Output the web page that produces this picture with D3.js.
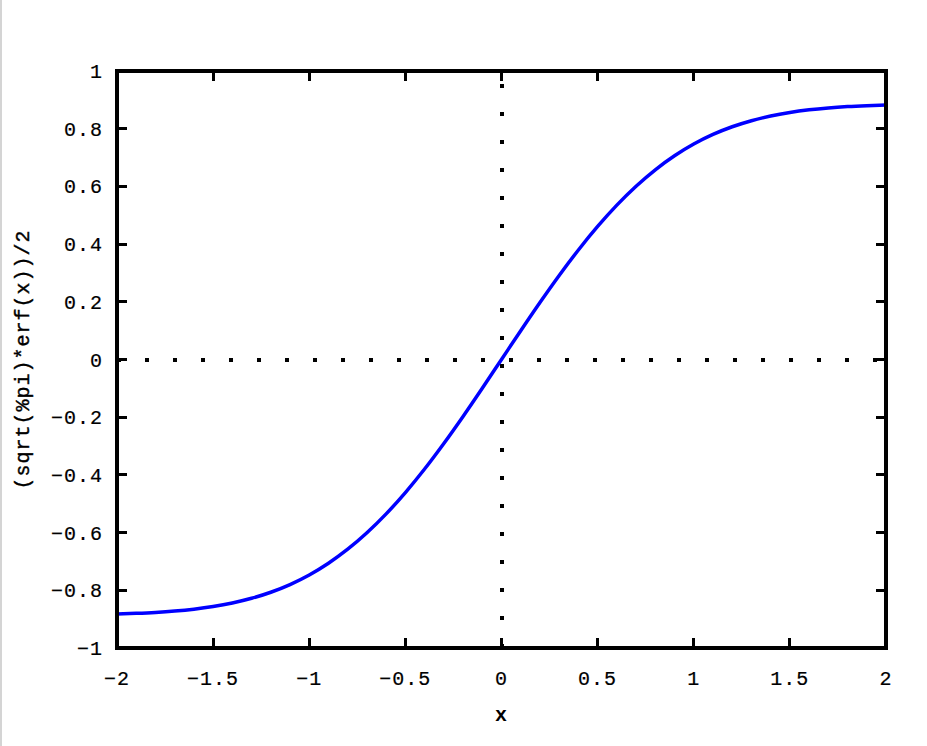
<!DOCTYPE html>
<html>
<head>
<meta charset="utf-8">
<script src="https://cdn.jsdelivr.net/npm/d3@7"></script>
<style>
    html, body { margin: 0; padding: 0; background: #fff; }
    svg { display: block; }
    text { font-family: "Liberation Mono", "DejaVu Sans Mono", monospace; fill: #000; }
</style>
</head>
<body>
<svg id="chart" width="927" height="746"></svg>
<script>
// samples of (sqrt(%pi)*erf(x))/2
var xs = [-2, -1.9, -1.8, -1.7, -1.6, -1.5, -1.4, -1.3, -1.2, -1.1, -1, -0.9, -0.8, -0.7, -0.6, -0.5, -0.4, -0.3, -0.2, -0.1,
    0, 0.1, 0.2, 0.3, 0.4, 0.5, 0.6, 0.7, 0.8, 0.9, 1, 1.1, 1.2, 1.3, 1.4, 1.5, 1.6, 1.7, 1.8, 1.9, 2];
var ys = [-0.8821, -0.8798, -0.8766, -0.8719, -0.8653, -0.8562, -0.8439, -0.8277, -0.8067, -0.7801, -0.7468, -0.7062, -0.6577, -0.6007, -0.5352, -0.4613, -0.3797, -0.2912, -0.1974, -0.0997,
    0, 0.0997, 0.1974, 0.2912, 0.3797, 0.4613, 0.5352, 0.6007, 0.6577, 0.7062, 0.7468, 0.7801, 0.8067, 0.8277, 0.8439, 0.8562, 0.8653, 0.8719, 0.8766, 0.8798, 0.8821];

var xTicks = [-2, -1.5, -1, -0.5, 0, 0.5, 1, 1.5, 2];
var yTicks = [-1, -0.8, -0.6, -0.4, -0.2, 0, 0.2, 0.4, 0.6, 0.8, 1];
var xLabel = "x";
var yLabel = "(sqrt(%pi)*erf(x))/2";

const plotLeft = 117, plotRight = 886, plotTop = 71, plotBottom = 648;
const tickLen = 10;

var svg = d3.select("#chart");

var x = d3.scaleLinear().domain([-2, 2]).range([plotLeft, plotRight]);
var y = d3.scaleLinear().domain([-1, 1]).range([plotBottom, plotTop]);

function fmt(v) {
    return String(+v.toFixed(2)).replace("-", "\u2212");
}

// light grey edge on the left of the window
svg.append("rect").attr("x", 0).attr("y", 0).attr("width", 2).attr("height", 746).attr("fill", "#d4d4d4");

// zero axes, dotted
svg.append("line")
    .attr("x1", plotLeft).attr("x2", plotRight)
    .attr("y1", y(0)).attr("y2", y(0))
    .attr("stroke", "#000").attr("stroke-width", 4)
    .attr("stroke-dasharray", "4 24")
    .attr("shape-rendering", "crispEdges");

svg.append("line")
    .attr("x1", x(0)).attr("x2", x(0))
    .attr("y1", plotBottom).attr("y2", plotTop)
    .attr("stroke", "#000").attr("stroke-width", 4)
    .attr("stroke-dasharray", "4 24")
    .attr("shape-rendering", "crispEdges");

// ticks on all four sides
var ticks = svg.append("g").attr("stroke", "#000").attr("stroke-width", 3).attr("shape-rendering", "crispEdges");

xTicks.forEach(function (t) {
    ticks.append("line").attr("x1", x(t)).attr("x2", x(t)).attr("y1", plotBottom).attr("y2", plotBottom - tickLen);
    ticks.append("line").attr("x1", x(t)).attr("x2", x(t)).attr("y1", plotTop).attr("y2", plotTop + tickLen);
});
yTicks.forEach(function (t) {
    ticks.append("line").attr("x1", plotLeft).attr("x2", plotLeft + tickLen).attr("y1", y(t)).attr("y2", y(t));
    ticks.append("line").attr("x1", plotRight).attr("x2", plotRight - tickLen).attr("y1", y(t)).attr("y2", y(t));
});

// tick labels
svg.append("g").selectAll("text")
    .data(xTicks)
    .enter()
    .append("text")
    .attr("x", function (d) { return x(d); })
    .attr("y", 685)
    .attr("text-anchor", "middle")
    .style("font-size", "20px")
    .style("letter-spacing", "1px")
    .style("stroke", "#000").style("stroke-width", 0.2)
    .text(fmt);

svg.append("g").selectAll("text")
    .data(yTicks)
    .enter()
    .append("text")
    .attr("x", 103)
    .attr("y", function (d) { return y(d) + 7; })
    .attr("text-anchor", "end")
    .style("font-size", "20px")
    .style("letter-spacing", "1px")
    .style("stroke", "#000").style("stroke-width", 0.2)
    .text(fmt);

// curve
var line = d3.line()
    .x(function (d, i) { return x(xs[i]); })
    .y(function (d) { return y(d); })
    .curve(d3.curveMonotoneX);

svg.append("path")
    .datum(ys)
    .attr("d", line)
    .attr("fill", "none")
    .attr("stroke", "#0000ff")
    .attr("stroke-width", 3.5);

// frame
svg.append("rect")
    .attr("x", plotLeft).attr("y", plotTop)
    .attr("width", plotRight - plotLeft).attr("height", plotBottom - plotTop)
    .attr("fill", "none")
    .attr("stroke", "#000").attr("stroke-width", 3.5)
    .attr("shape-rendering", "crispEdges");

// axis labels
svg.append("text")
    .attr("x", (plotLeft + plotRight) / 2)
    .attr("y", 721)
    .attr("text-anchor", "middle")
    .style("font-size", "20px")
    .style("font-weight", "bold")
    .style("letter-spacing", "1px")
    .text(xLabel);

svg.append("text")
    .attr("transform", "translate(29," + ((plotTop + plotBottom) / 2) + ") rotate(-90)")
    .attr("text-anchor", "middle")
    .style("font-size", "20px")
    .style("letter-spacing", "1px")
    .style("stroke", "#000").style("stroke-width", 0.4)
    .text(yLabel);
</script>
</body>
</html>
